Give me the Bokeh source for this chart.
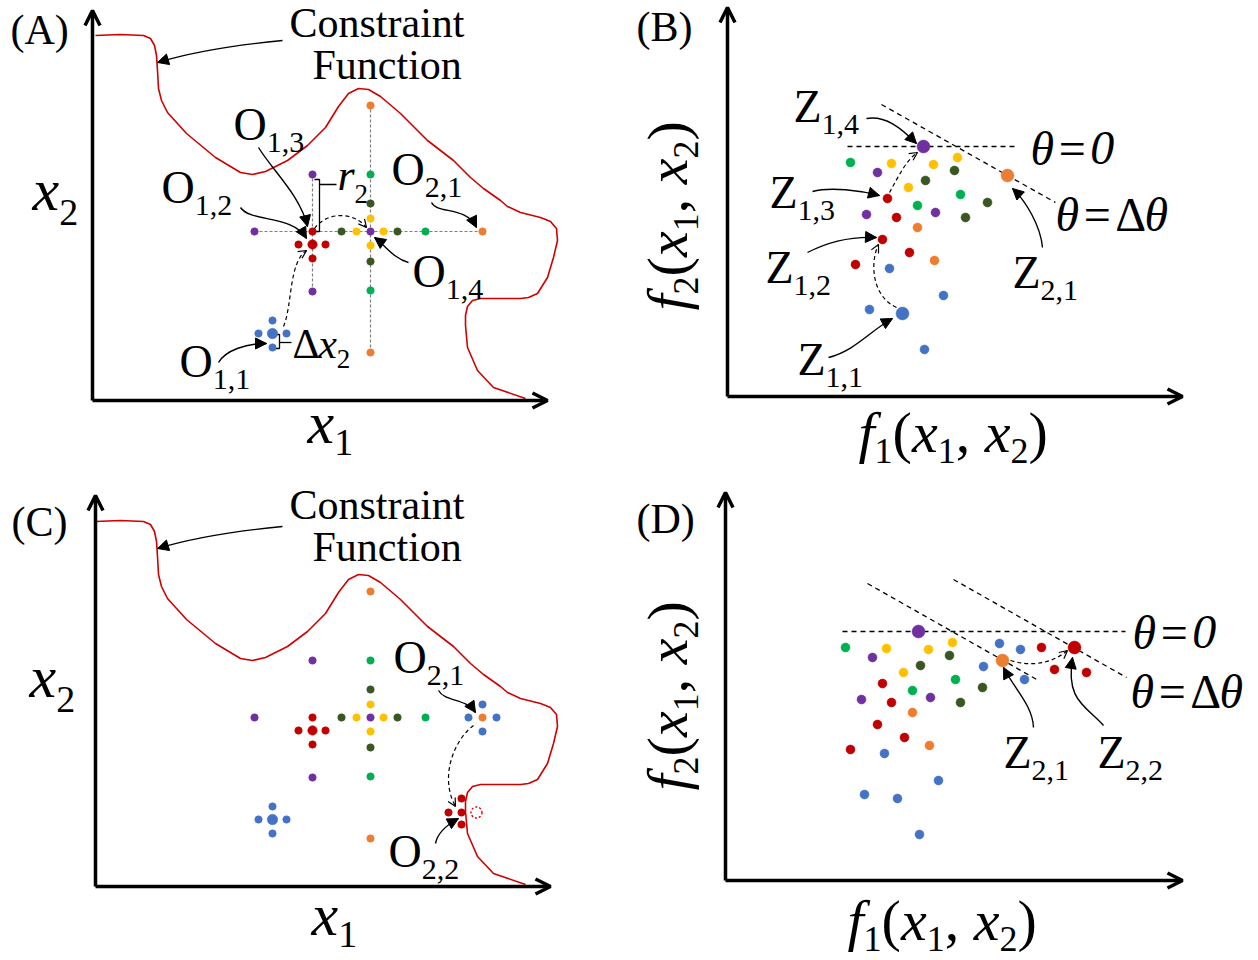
import math
from bokeh.plotting import figure
from bokeh.models import Range1d, Arrow, NormalHead, OpenHead, ColumnDataSource
from bokeh.core.properties import value
from bokeh.embed import file_html
from bokeh.resources import INLINE

# ---------------- DATA (panel-local units: x right, y up from the axes corner) ----------------
# decision space, panels (A) and (C)
dec_blue_x = [180, 180, 166, 194, 180]
dec_blue_y = [67, 80, 67, 67, 53]
dec_red_x = [220, 206, 233, 220, 220]
dec_red_y = [156, 156, 156, 142, 169]
dec_purple_x = [162, 220, 220, 278]
dec_purple_y = [169, 226, 109, 169]
dec_yellow_x = [264, 291, 278, 278]
dec_yellow_y = [169, 169, 182, 155]
dec_dkgreen_x = [249, 305, 278, 278]
dec_dkgreen_y = [169, 169, 197, 139]
dec_green_x = [333, 278, 278]
dec_green_y = [169, 226, 110]
dec_orange_x = [390, 278, 278]
dec_orange_y = [169, 295, 48]
# extra solutions only in (C)
dec2_blue_x = [390, 376, 404, 390]
dec2_blue_y = [182, 169, 169, 155]
dec2_red_x = [369, 356, 369, 369]
dec2_red_y = [88, 74, 74, 62]
infeasible_x = [384]
infeasible_y = [74]
# constraint function
curve_x = [3, 28, 51, 58, 62, 64, 65, 66, 69, 75, 94, 123, 148, 160, 173, 195, 215, 233, 246,
           256, 266, 276, 288, 308, 335, 361, 378, 391, 408, 415, 428, 448, 458, 464, 465, 461,
           455, 445, 436, 428, 408, 388, 380, 375, 373, 373, 375, 385, 401, 433]
curve_y = [365, 366, 365, 362, 355, 345, 330, 312, 300, 288, 267, 243, 228, 226, 229, 240, 255,
           273, 294, 307, 312, 311, 304, 287, 260, 240, 223, 212, 200, 194, 188, 183, 179, 172,
           160, 143, 123, 107, 103, 102, 102, 102, 100, 94, 85, 75, 53, 30, 13, 2]

# objective space, panels (B) and (D)
obj_blue_x = [162, 216, 142, 175, 197]
obj_blue_y = [128, 101, 87, 83, 47]
obj_red_x = [160, 169, 155, 182, 128]
obj_red_y = [198, 179, 157, 144, 132]
obj_purple_x = [196, 150, 139, 208]
obj_purple_y = [250, 224, 182, 184]
obj_yellow_x = [164, 206, 230, 181]
obj_yellow_y = [233, 232, 239, 209]
obj_dkgreen_x = [227, 198, 260, 238]
obj_dkgreen_y = [226, 216, 194, 179]
obj_green_x = [123, 190, 233]
obj_green_y = [234, 191, 202]
obj_orange_x = [280, 190, 207]
obj_orange_y = [221, 169, 136]
# extra objective vectors only in (D)
obj2_blue_x = [277, 298, 261, 302]
obj2_blue_y = [238, 232, 215, 202]
obj2_red_x = [319, 352, 332, 364]
obj2_red_y = [234, 234, 212, 209]

# reference directions (theta = 0 and theta = delta theta)
b_theta0_x = [120, 291]; b_theta0_y = [250, 250]
b_dtheta_x = [154, 328]; b_dtheta_y = [292, 194]
d_theta0_x = [120, 403]; d_theta0_y = [250, 250]
d_dtheta1_x = [145, 316]; d_dtheta1_y = [298, 201]
d_dtheta2_x = [231, 404]; d_dtheta2_y = [302, 204]

# ---------------- LAYOUT ----------------
COL = {"blue": "#4472C4", "red": "#C00000", "purple": "#7030A0", "green": "#00B050",
       "dkgreen": "#385723", "yellow": "#FFC000", "orange": "#ED7D31"}
ORIG = {"A": (92, 400), "B": (727, 396), "C": (92, 886), "D": (722, 881)}
FONT = value("Liberation Serif")

p = figure(width=1258, height=960, x_range=Range1d(0, 1258), y_range=Range1d(960, 0),
           output_backend="svg", toolbar_location=None, min_border=0,
           x_axis_location=None, y_axis_location=None)
p.outline_line_color = None
p.background_fill_color = "white"
p.border_fill_color = "white"
p.xgrid.visible = False
p.ygrid.visible = False


def G(panel, xs, ys):
    ox, oy = ORIG[panel]
    return [ox + x for x in xs], [oy - y for y in ys]


def dots(panel, xs, ys, color, size, big=(), bigsize=None):
    gx, gy = G(panel, xs, ys)
    sz = [bigsize if i in big else size for i in range(len(xs))]
    p.scatter(gx, gy, size=sz, fill_color=COL[color], line_color=COL[color], line_width=0.5)


def seg(panel, xs, ys, color="black", dash="5 4", width=1.3):
    gx, gy = G(panel, xs, ys)
    p.line(gx, gy, line_color=color, line_dash=dash, line_width=width)


# axes
axes = [((92, 400), (92, 10)), ((92, 400), (547, 400)),
        ((727, 396), (727, 7)), ((727, 396), (1182, 396)),
        ((95, 886), (95, 495)), ((95, 886), (550, 886)),
        ((725, 880), (725, 492)), ((725, 880), (1182, 880))]
for (x0, y0), (x1, y1) in axes:
    p.add_layout(Arrow(end=OpenHead(size=15, line_width=3.5, line_color="black"),
                       x_start=x0, y_start=y0, x_end=x1, y_end=y1, line_width=3.5,
                       line_color="black"))

# constraint functions
for pan in ("A", "C"):
    gx, gy = G(pan, curve_x, curve_y)
    p.line(gx, gy, line_color="#D00000", line_width=1.6, line_join="round")

# grey guide lines in (A)
for xs, ys in [([162, 390], [169, 169]), ([220, 220], [109, 226]), ([278, 278], [48, 295])]:
    seg("A", xs, ys, color="#7F7F7F", dash="3 2", width=1.2)

# theta lines
seg("B", b_theta0_x, b_theta0_y); seg("B", b_dtheta_x, b_dtheta_y)
seg("D", d_theta0_x, d_theta0_y); seg("D", d_dtheta1_x, d_dtheta1_y); seg("D", d_dtheta2_x, d_dtheta2_y)

# brackets r2 and delta x2 in (A)
p.multi_line([[314, 319, 319, 314], [319, 336], [275, 279, 279, 275], [279, 291]],
             [[179, 179, 231, 231], [184, 184], [334, 334, 348, 348], [342, 342]],
             line_color="black", line_width=1.3)

# solutions in decision space
for pan in ("A", "C"):
    dots(pan, dec_purple_x, dec_purple_y, "purple", 7.5)
    dots(pan, dec_green_x, dec_green_y, "green", 7.5)
    dots(pan, dec_dkgreen_x, dec_dkgreen_y, "dkgreen", 7.5)
    dots(pan, dec_yellow_x, dec_yellow_y, "yellow", 7.5)
    dots(pan, dec_orange_x, dec_orange_y, "orange", 7.5)
    dots(pan, dec_red_x, dec_red_y, "red", 7.5, big=(0,), bigsize=9.5)
    dots(pan, dec_blue_x, dec_blue_y, "blue", 7.5, big=(0,), bigsize=10.5)
dots("C", dec2_blue_x, dec2_blue_y, "blue", 7.5)
dots("C", dec2_red_x, dec2_red_y, "red", 7.5)
gx, gy = G("C", infeasible_x, infeasible_y)
p.scatter(gx, gy, size=11, fill_alpha=0, line_color="#E00000", line_dash="2 2", line_width=1.4)

# objective space
for pan in ("B", "D"):
    dots(pan, obj_green_x, obj_green_y, "green", 9)
    dots(pan, obj_dkgreen_x, obj_dkgreen_y, "dkgreen", 9)
    dots(pan, obj_yellow_x, obj_yellow_y, "yellow", 9)
    dots(pan, obj_red_x, obj_red_y, "red", 9)
    dots(pan, obj_purple_x, obj_purple_y, "purple", 9, big=(0,), bigsize=13)
    dots(pan, obj_orange_x, obj_orange_y, "orange", 9, big=(0,), bigsize=13)
dots("B", obj_blue_x, obj_blue_y, "blue", 9, big=(3,), bigsize=13)
dots("D", obj_blue_x, obj_blue_y, "blue", 9)
dots("D", obj2_blue_x, obj2_blue_y, "blue", 9)
dots("D", obj2_red_x, obj2_red_y, "red", 9, big=(1,), bigsize=13)

# ---------------- curved arrows (x0, y0, cx0, cy0, cx1, cy1, x1, y1) ----------------
solid_arrows = [
    (282, 40, 230, 45, 190, 52, 157, 62),
    (258, 147, 272, 170, 300, 195, 307, 226),
    (240, 207, 250, 222, 292, 214, 306, 238),
    (431, 202, 437, 214, 465, 205, 476, 227),
    (408, 262, 393, 258, 385, 245, 374, 237),
    (218, 362, 225, 350, 245, 343, 266, 343),
    (282, 526, 230, 531, 190, 538, 157, 548),
    (438, 690, 445, 702, 465, 697, 475, 712),
    (435, 843, 437, 832, 447, 824, 458, 818),
    (866, 118, 885, 115, 900, 127, 916, 143),
    (812, 191, 830, 186, 860, 190, 879, 195),
    (807, 252, 830, 240, 855, 236, 876, 237),
    (828, 357, 855, 350, 870, 330, 892, 318),
    (1042, 247, 1040, 225, 1025, 200, 1012, 188),
    (1033, 727, 1032, 705, 1015, 690, 1003, 667),
    (1103, 725, 1085, 705, 1065, 700, 1072, 657),
]
dashed_arrows = [
    (283, 326, 292, 305, 288, 262, 306, 250),
    (314, 228, 325, 212, 352, 210, 366, 227),
    (473, 725, 455, 738, 438, 775, 455, 806),
    (896, 307, 870, 295, 870, 260, 878, 244),
    (889, 192, 897, 178, 905, 160, 917, 152),
    (1010, 660, 1030, 666, 1050, 664, 1067, 650),
]


def curved(arrows, dash, head):
    cols = list(zip(*arrows))
    src = ColumnDataSource(dict(x0=cols[0], y0=cols[1], cx0=cols[2], cy0=cols[3],
                                cx1=cols[4], cy1=cols[5], x1=cols[6], y1=cols[7]))
    p.bezier(x0="x0", y0="y0", x1="x1", y1="y1", cx0="cx0", cy0="cy0", cx1="cx1", cy1="cy1",
             source=src, line_color="black", line_width=1.4 if dash == "solid" else 1.2,
             line_dash=dash)
    xs, ys, xe, ye = [], [], [], []
    for a in arrows:
        dx, dy = a[6] - a[4], a[7] - a[5]
        n = math.hypot(dx, dy) or 1.0
        xs.append(a[6] - 3 * dx / n); ys.append(a[7] - 3 * dy / n)
        xe.append(a[6]); ye.append(a[7])
    hs = ColumnDataSource(dict(xs=xs, ys=ys, xe=xe, ye=ye))
    p.add_layout(Arrow(end=head, source=hs, x_start="xs", y_start="ys", x_end="xe", y_end="ye",
                       line_alpha=0))


curved(solid_arrows, "solid", NormalHead(size=11, fill_color="black", line_color="black", line_width=1))
curved(dashed_arrows, "4 3", OpenHead(size=8, line_color="black", line_width=1.2))

# ---------------- text ----------------
ADV_R = {"(": .333, ")": .333, ",": .25, " ": .25, "=": .564, "\u0394": .612, "O": .722, "Z": .611}
ADV_I = {"f": .278, "x": .444, "r": .389, "\u03b8": .5}
T = dict(x=[], y=[], text=[], size=[], style=[], angle=[])
K = 0.34  # renderer places the alphabetic baseline this fraction of an em too low


def adv(ch, it):
    if it and ch in ADV_I:
        return ADV_I[ch]
    if ch.isdigit():
        return .5
    return ADV_R.get(ch, .5)


def put(x, y, pieces, rot=False):
    pos = 0.0
    for piece in pieces:
        txt, sz, it, dy = piece[:4]
        pre = piece[4] if len(piece) > 4 else 0.0
        pos += pre * sz
        if rot:
            T["x"].append(x + dy - K * sz); T["y"].append(y - pos); T["angle"].append(math.pi / 2)
        else:
            T["x"].append(x + pos); T["y"].append(y + dy - K * sz); T["angle"].append(0.0)
        T["text"].append(txt); T["size"].append(f"{sz}px")
        T["style"].append("italic" if it else "normal")
        pos += sum(adv(c, it) for c in txt) * sz + pre * sz


def sub(main, s, x, y, ms=46, ss=30, dy=12):
    put(x, y, [(main, ms, False, 0), (s, ss, False, dy)])


def fl(i, x, y, rot=False):
    M, S, d = 58, 36, 11
    put(x, y, [("f", M, True, 0), (str(i), S, False, d), ("(", M, False, 0), ("x", M, True, 0),
               ("1", S, False, d), (", ", M, False, 0), ("x", M, True, 0), ("2", S, False, d),
               (")", M, False, 0)], rot)


# panel letters
put(10, 44, [("(A)", 42, False, 0)]); put(636, 41, [("(B)", 42, False, 0)])
put(11, 536, [("(C)", 42, False, 0)]); put(636, 533, [("(D)", 42, False, 0)])
# constraint labels
for dy in (0, 482):
    put(289, 37 + dy, [("Constraint", 42, False, 0)])
    put(312, 79 + dy, [("Function", 42, False, 0)])
# axis labels (decision space)
for xx, yy in ((32, 210), (29, 697)):
    put(xx, yy, [("x", 60, True, 0), ("2", 38, False, 15)])
for xx, yy in ((307, 443), (311, 935)):
    put(xx, yy, [("x", 60, True, 0), ("1", 38, False, 12)])
# objective axis labels
fl(1, 858, 452); fl(1, 847, 940)
fl(2, 687, 310, rot=True); fl(2, 687, 790, rot=True)
# O labels
sub("O", "1,3", 233, 140); sub("O", "1,2", 161, 203); sub("O", "2,1", 391, 185)
sub("O", "1,4", 412, 287); sub("O", "1,1", 179, 377)
sub("O", "2,1", 393, 673); sub("O", "2,2", 388, 867)
put(337, 190, [("r", 44, True, 0), ("2", 27, False, 13)])
put(292, 358, [("\u0394", 42, False, 0), ("x", 42, True, 0), ("2", 27, False, 10)])
# Z labels
sub("Z", "1,4", 793, 122); sub("Z", "1,3", 769, 208); sub("Z", "1,2", 765, 283)
sub("Z", "1,1", 797, 375); sub("Z", "2,1", 1012, 288)
sub("Z", "2,1", 1003, 768); sub("Z", "2,2", 1097, 768)
# theta labels
for xx, yy in ((1030, 164), (1132, 648)):
    put(xx, yy, [("\u03b8", 48, True, 0), ("=", 48, False, 0, 0.09), ("0", 48, True, 0)])
for xx, yy in ((1055, 230), (1130, 707)):
    put(xx, yy, [("\u03b8", 48, True, 0), ("=", 48, False, 0, 0.09), ("\u0394", 48, False, 0),
                 ("\u03b8", 48, True, 0)])

p.text(x="x", y="y", text="text", angle="angle", source=ColumnDataSource(T),
       text_font=FONT, text_font_size={"field": "size"}, text_font_style={"field": "style"},
       text_align="left", text_baseline="alphabetic", text_color="black")

open("out.html", "w").write(file_html(p, INLINE))
